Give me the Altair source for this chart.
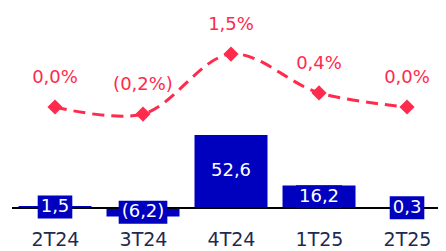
import altair as alt
import pandas as pd

quarters = ["2T24", "3T24", "4T24", "1T25", "2T25"]
bar_values = [1.5, -6.2, 52.6, 16.2, 0.3]
pct_values = [0.0, -0.2, 1.5, 0.4, 0.0]

BLUE = "#0000BF"
RED = "#FF2A4C"
TEXT = "#1C2B4F"
FONT = "DejaVu Sans"
FS = 18


def fmt(v, suffix=""):
    s = f"{abs(v):.1f}".replace(".", ",") + suffix
    return f"({s})" if v < 0 else s


char_w = {"(": 0.39, ")": 0.39, ",": 0.318}


def box_path(label):
    w = sum(char_w.get(c, 0.636) for c in label) * FS + 6
    hw = round(w / 2 / 25, 3)
    hh = round(11.5 / 25, 3)
    return f"M{-hw},{-hh}L{hw},{-hh}L{hw},{hh}L{-hw},{hh}Z"


df = pd.DataFrame({
    "i": list(range(len(quarters))),
    "q": quarters,
    "v": bar_values,
    "mid": [v / 2 for v in bar_values],
    "lab": [fmt(v) for v in bar_values],
    "p": pct_values,
    "plab": [fmt(v, "%") for v in pct_values],
})
df["box"] = df["lab"].map(box_path)

label_expr = "[" + ",".join(f"'{q}'" for q in quarters) + "][round(datum.value)]"

x = alt.X(
    "i:Q",
    scale=alt.Scale(domain=[-0.4886, 4.352], nice=False, zero=False, padding=0),
    axis=alt.Axis(title=None, domain=False, ticks=False, grid=False, labelPadding=7,
                  values=list(range(len(quarters))), labelExpr=label_expr,
                  labelFont=FONT, labelFontSize=19, labelColor=TEXT, labelAngle=0,
                  labelFlush=False, labelOverlap=False),
)
ybar = alt.Scale(domain=[-10.8, 144], nice=False, zero=False)
yline = alt.Scale(domain=[-3.286, 2.805], nice=False, zero=False)

base = alt.Chart(df)

bars = base.mark_bar(color=BLUE, width=73).encode(
    x=x, y=alt.Y("v:Q", scale=ybar, axis=None), y2=alt.datum(0)
)
rule = base.mark_rule(color="black", strokeWidth=2).encode(
    y=alt.YDatum(0, scale=ybar, axis=None)
)
boxes = base.mark_point(filled=True, opacity=1, color=BLUE, size=2500, strokeWidth=0).encode(
    x=x, y=alt.Y("mid:Q", scale=ybar, axis=None), shape=alt.Shape("box:N", scale=None)
)
btext = base.mark_text(color="white", font=FONT, fontSize=FS).encode(
    x=x, y=alt.Y("mid:Q", scale=ybar, axis=None), text="lab:N"
)
line = base.mark_line(color=RED, strokeWidth=3, strokeDash=[12, 7], interpolate="catmull-rom").encode(
    x=x, y=alt.Y("p:Q", scale=yline, axis=None)
)
pts = base.mark_point(shape="diamond", filled=True, size=230, color=RED, opacity=1).encode(
    x=x, y=alt.Y("p:Q", scale=yline, axis=None)
)
ptext = base.mark_text(color=RED, font=FONT, fontSize=FS, dy=-29).encode(
    x=x, y=alt.Y("p:Q", scale=yline, axis=None), text="plab:N"
)

chart = alt.layer(bars, rule, boxes, btext, line, pts, ptext).resolve_scale(
    y="independent"
).properties(
    width=426, height=215, autosize="none",
    padding={"left": 4, "top": 0, "right": 0, "bottom": 28},
).configure_view(stroke=None)

chart.save("out.html", embed_options={"renderer": "svg", "actions": False})
